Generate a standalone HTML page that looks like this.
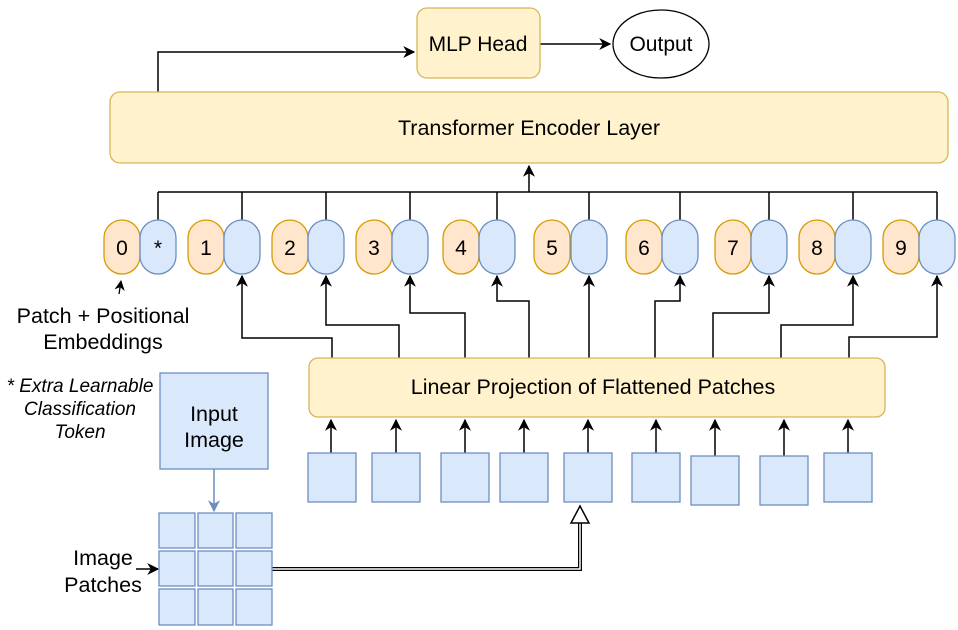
<!DOCTYPE html>
<html><head><meta charset="utf-8"><style>
html,body{margin:0;padding:0;background:#fff}
svg{display:block}
text{font-family:"Liberation Sans",Arial,sans-serif;fill:#000}
</style></head><body>
<svg width="958" height="630" viewBox="0 0 958 630" xmlns="http://www.w3.org/2000/svg">
<defs>
<marker id="a" viewBox="0 0 10 10" refX="9" refY="5" markerWidth="8" markerHeight="8" orient="auto"><path d="M0,0 L10,5 L0,10 L3,5 z" fill="#000"/></marker>
<marker id="ab" viewBox="0 0 10 10" refX="9" refY="5" markerWidth="8" markerHeight="8" orient="auto"><path d="M0,0 L10,5 L0,10 L3,5 z" fill="#6c8ebf"/></marker>
</defs>
<g stroke="#000" stroke-width="1.5" fill="none">
<path d="M158,92 V52 H414" marker-end="url(#a)"/>
<path d="M540,44 H610" marker-end="url(#a)"/>
<path d="M158,192 H937"/>
<path d="M158,192 V220 M242,192 V220 M326,192 V220 M410,192 V220 M497,192 V220 M589,192 V220 M680,192 V220 M769,192 V220 M853,192 V220 M937,192 V220"/>
<path d="M529,192 V166" marker-end="url(#a)"/>
<path d="M332,358 V338 H242 V276" marker-end="url(#a)"/>
<path d="M399,358 V325 H326 V276" marker-end="url(#a)"/>
<path d="M465,358 V313 H410 V276" marker-end="url(#a)"/>
<path d="M529,358 V301 H497 V276" marker-end="url(#a)"/>
<path d="M589,358 V276" marker-end="url(#a)"/>
<path d="M655,358 V301 H680 V276" marker-end="url(#a)"/>
<path d="M713,358 V313 H769 V276" marker-end="url(#a)"/>
<path d="M781,358 V325 H853 V276" marker-end="url(#a)"/>
<path d="M849,358 V337 H937 V276" marker-end="url(#a)"/>
<path d="M331,453 V420" marker-end="url(#a)"/>
<path d="M396,453 V420" marker-end="url(#a)"/>
<path d="M465,453 V420" marker-end="url(#a)"/>
<path d="M524,453 V420" marker-end="url(#a)"/>
<path d="M588,453 V420" marker-end="url(#a)"/>
<path d="M656,453 V420" marker-end="url(#a)"/>
<path d="M715,456 V420" marker-end="url(#a)"/>
<path d="M784,456 V420" marker-end="url(#a)"/>
<path d="M848,453 V420" marker-end="url(#a)"/>
<path d="M136,569 H158" marker-end="url(#a)"/>
<path d="M119,294 L121,281" marker-end="url(#a)" stroke-width="1.3"/>
</g>
<path d="M272,569 H580 V520" stroke="#000" stroke-width="4" fill="none"/>
<path d="M272,569 H580 V520" stroke="#fff" stroke-width="1.5" fill="none"/>
<path d="M580,506 L571,523 L589,523 z" fill="#fff" stroke="#000" stroke-width="1.5"/>
<rect x="417" y="8" width="123" height="70" rx="10" fill="#fff2cc" stroke="#d6b656" stroke-width="1.3"/>
<text x="478" y="51" font-size="21" text-anchor="middle">MLP Head</text>
<ellipse cx="661" cy="44" rx="48" ry="34" fill="#fff" stroke="#000" stroke-width="1.3"/>
<text x="661" y="51" font-size="21" text-anchor="middle">Output</text>
<rect x="110" y="92" width="838" height="71" rx="10" fill="#fff2cc" stroke="#d6b656" stroke-width="1.3"/>
<text x="529" y="135" font-size="21.5" text-anchor="middle">Transformer Encoder Layer</text>
<g stroke-width="1.3">
<rect x="104" y="220" width="36" height="54" rx="18" fill="#ffe6cc" stroke="#d79b00"/><rect x="140" y="220" width="36" height="54" rx="18" fill="#dae8fc" stroke="#6c8ebf"/>
<rect x="188" y="220" width="36" height="54" rx="18" fill="#ffe6cc" stroke="#d79b00"/><rect x="224" y="220" width="36" height="54" rx="18" fill="#dae8fc" stroke="#6c8ebf"/>
<rect x="272" y="220" width="36" height="54" rx="18" fill="#ffe6cc" stroke="#d79b00"/><rect x="308" y="220" width="36" height="54" rx="18" fill="#dae8fc" stroke="#6c8ebf"/>
<rect x="356" y="220" width="36" height="54" rx="18" fill="#ffe6cc" stroke="#d79b00"/><rect x="392" y="220" width="36" height="54" rx="18" fill="#dae8fc" stroke="#6c8ebf"/>
<rect x="443" y="220" width="36" height="54" rx="18" fill="#ffe6cc" stroke="#d79b00"/><rect x="479" y="220" width="36" height="54" rx="18" fill="#dae8fc" stroke="#6c8ebf"/>
<rect x="534" y="220" width="36" height="54" rx="18" fill="#ffe6cc" stroke="#d79b00"/><rect x="571" y="220" width="36" height="54" rx="18" fill="#dae8fc" stroke="#6c8ebf"/>
<rect x="626" y="220" width="36" height="54" rx="18" fill="#ffe6cc" stroke="#d79b00"/><rect x="662" y="220" width="36" height="54" rx="18" fill="#dae8fc" stroke="#6c8ebf"/>
<rect x="715" y="220" width="36" height="54" rx="18" fill="#ffe6cc" stroke="#d79b00"/><rect x="751" y="220" width="36" height="54" rx="18" fill="#dae8fc" stroke="#6c8ebf"/>
<rect x="799" y="220" width="36" height="54" rx="18" fill="#ffe6cc" stroke="#d79b00"/><rect x="835" y="220" width="36" height="54" rx="18" fill="#dae8fc" stroke="#6c8ebf"/>
<rect x="883" y="220" width="36" height="54" rx="18" fill="#ffe6cc" stroke="#d79b00"/><rect x="919" y="220" width="36" height="54" rx="18" fill="#dae8fc" stroke="#6c8ebf"/>
</g>
<g font-size="21" text-anchor="middle">
<text x="122" y="255">0</text><text x="158" y="255">*</text>
<text x="206" y="255">1</text><text x="290" y="255">2</text><text x="374" y="255">3</text>
<text x="461" y="255">4</text><text x="552" y="255">5</text><text x="644" y="255">6</text>
<text x="733" y="255">7</text><text x="817" y="255">8</text><text x="901" y="255">9</text>
</g>
<rect x="309" y="358" width="576" height="59" rx="9" fill="#fff2cc" stroke="#d6b656" stroke-width="1.3"/>
<text x="593" y="394" font-size="21.5" text-anchor="middle">Linear Projection of Flattened Patches</text>
<g fill="#dae8fc" stroke="#6c8ebf" stroke-width="1.3">
<rect x="308" y="453" width="48" height="49"/><rect x="372" y="453" width="48" height="49"/>
<rect x="441" y="453" width="48" height="49"/><rect x="500" y="453" width="48" height="49"/>
<rect x="564" y="453" width="48" height="49"/><rect x="632" y="453" width="48" height="49"/>
<rect x="691" y="456" width="48" height="49"/><rect x="760" y="456" width="48" height="49"/>
<rect x="824" y="453" width="48" height="49"/>
<rect x="160" y="373" width="108" height="96"/>
<rect x="159" y="513" width="36" height="35"/><rect x="198" y="513" width="35" height="35"/><rect x="236" y="513" width="36" height="35"/>
<rect x="159" y="551" width="36" height="35"/><rect x="198" y="551" width="35" height="35"/><rect x="236" y="551" width="36" height="35"/>
<rect x="159" y="589" width="36" height="36"/><rect x="198" y="589" width="35" height="36"/><rect x="236" y="589" width="36" height="36"/>
</g>
<path d="M214,469 V511" stroke="#6c8ebf" stroke-width="1.5" marker-end="url(#ab)"/>
<g font-size="21.5" text-anchor="middle">
<text x="214" y="421">Input</text><text x="214" y="447">Image</text>
<text x="103" y="323">Patch + Positional</text><text x="103" y="349">Embeddings</text>
<text x="103" y="565">Image</text><text x="103" y="592">Patches</text>
</g>
<g font-size="19" font-style="italic" text-anchor="middle">
<text x="80" y="392">* Extra Learnable</text><text x="80" y="415">Classification</text><text x="80" y="438">Token</text>
</g>
</svg>
</body></html>
